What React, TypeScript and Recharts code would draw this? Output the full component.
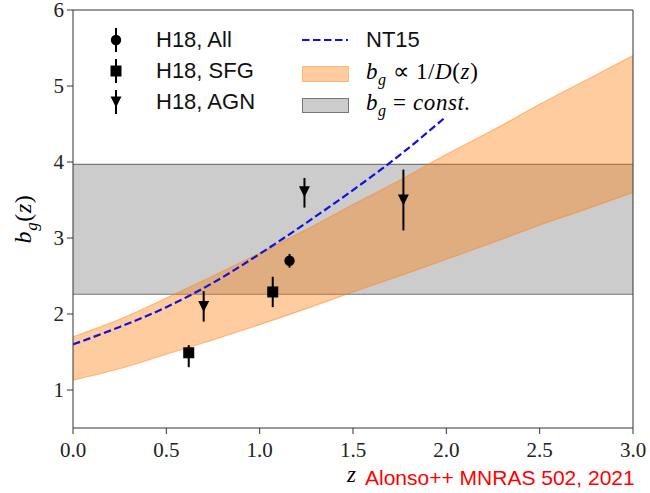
import React from 'react';
import {
  ComposedChart,
  Area,
  Line,
  Scatter,
  ErrorBar,
  XAxis,
  YAxis,
  ReferenceLine,
} from 'recharts';

// Redshift grid for the model bands
const zGrid = [0, 0.25, 0.5, 0.75, 1.0, 1.25, 1.5, 1.75, 2.0, 2.25, 2.5, 2.75, 3.0];
// b_g ∝ 1/D(z) band edges
const growthLow = [1.13, 1.28, 1.47, 1.66, 1.86, 2.07, 2.29, 2.5, 2.72, 2.94, 3.17, 3.38, 3.6];
const growthHigh = [1.7, 1.93, 2.21, 2.5, 2.8, 3.11, 3.44, 3.76, 4.1, 4.42, 4.76, 5.08, 5.4];
// b_g = const. band
const constZ = [0, 3];
const constLow = 2.26;
const constHigh = 3.97;
// NT15 prediction
const nt15Z = [0, 0.25, 0.5, 0.75, 1.0, 1.25, 1.5, 1.75, 2.0];
const nt15B = [1.6, 1.83, 2.09, 2.41, 2.79, 3.2, 3.63, 4.09, 4.6];
// H18 measurements: [z, b, err-, err+]
const h18All = [[1.16, 2.7, 0.09, 0.09]];
const h18Sfg = [
  [0.62, 1.49, 0.19, 0.1],
  [1.07, 2.29, 0.2, 0.2],
];
const h18Agn = [
  [0.7, 2.1, 0.2, 0.2],
  [1.24, 3.61, 0.21, 0.18],
  [1.77, 3.5, 0.4, 0.4],
];

const xTicks = [0, 0.5, 1.0, 1.5, 2.0, 2.5, 3.0];
const yTicks = [1, 2, 3, 4, 5, 6];

const growthData = zGrid.map((z, i) => ({ z, band: [growthLow[i], growthHigh[i]] }));
const constData = constZ.map((z) => ({ z, band: [constLow, constHigh] }));
const nt15Data = nt15Z.map((z, i) => ({ z, b: nt15B[i] }));
const toPoints = (rows: number[][]) =>
  rows.map(([z, b, lo, hi]) => ({ z, b, err: [lo, hi] }));

const SERIF = 'Liberation Serif';
const SANS = 'Liberation Sans';

const CircleMark = (p: any) => <circle cx={p.cx} cy={p.cy} r={5.2} fill="#000" />;
const SquareMark = (p: any) => (
  <rect x={p.cx - 5.5} y={p.cy - 5.5} width={11} height={11} fill="#000" />
);
const DownTriMark = (p: any) => (
  <polygon
    points={`${p.cx - 5.5},${p.cy - 5.5} ${p.cx + 5.5},${p.cy - 5.5} ${p.cx},${p.cy + 5.5}`}
    fill="#000"
  />
);

const XTick = (p: any) => (
  <g>
    <text
      x={p.x}
      y={p.y}
      dy={15}
      textAnchor="middle"
      fill="#222"
      fontFamily={SERIF}
      fontSize={21}
    >
      {Number(p.payload.value).toFixed(1)}
    </text>
  </g>
);
const YTick = (p: any) => (
  <g>
    <text
      x={p.x}
      y={p.y}
      dy={7}
      textAnchor="end"
      fill="#222"
      fontFamily={SERIF}
      fontSize={21}
    >
      {p.payload.value}
    </text>
  </g>
);

const LegendMarker = ({ kind }: { kind: string }) => (
  <svg width={24} height={26} style={{ display: 'block' }}>
    <line x1={12} y1={1} x2={12} y2={25} stroke="#000" strokeWidth={2} />
    {kind === 'circle' && <circle cx={12} cy={13} r={5.2} fill="#000" />}
    {kind === 'square' && <rect x={6.5} y={7.5} width={11} height={11} fill="#000" />}
    {kind === 'tri' && <polygon points="6.5,7.5 17.5,7.5 12,18.5" fill="#000" />}
  </svg>
);

const mathStyle: React.CSSProperties = { fontFamily: SERIF, fontSize: 23, letterSpacing: 0.6 };

export default function App() {
  return (
    <div style={{ position: 'absolute', left: 0, top: 0, width: 650, height: 493, background: '#fff' }}>
      <ComposedChart
        width={650}
        height={493}
        margin={{ top: 10, right: 17, bottom: 35, left: 13 }}
      >
        <XAxis
          dataKey="z"
          type="number"
          domain={[0, 3]}
          ticks={xTicks}
          allowDataOverflow
          height={30}
          stroke="#333"
          tickSize={6}
          tickMargin={8}
          tick={XTick}
        />
        <YAxis
          type="number"
          domain={[0.5, 6]}
          ticks={yTicks}
          allowDataOverflow
          width={60}
          stroke="#333"
          tickSize={6}
          tickMargin={3}
          tick={YTick}
        />
        <Area
          data={constData}
          dataKey="band"
          type="linear"
          fill="#808080"
          fillOpacity={0.4}
          stroke="#777"
          strokeWidth={1.2}
          isAnimationActive={false}
          activeDot={false}
        />
        <Area
          data={growthData}
          dataKey="band"
          type="monotone"
          fill="#ff7f0e"
          fillOpacity={0.4}
          stroke="#ff7f0e"
          strokeOpacity={0.45}
          strokeWidth={1.2}
          isAnimationActive={false}
          activeDot={false}
        />
        <Line
          data={nt15Data}
          dataKey="b"
          type="monotone"
          stroke="#1010e0"
          strokeWidth={2.2}
          strokeDasharray="7.5 3.5"
          dot={false}
          activeDot={false}
          isAnimationActive={false}
        />
        <ReferenceLine y={6} stroke="#333" strokeWidth={1} />
        <ReferenceLine x={3} stroke="#333" strokeWidth={1} />
        <Scatter data={toPoints(h18All)} dataKey="b" shape={CircleMark} isAnimationActive={false}>
          <ErrorBar dataKey="err" direction="y" width={0} stroke="#000" strokeWidth={2} />
        </Scatter>
        <Scatter data={toPoints(h18Sfg)} dataKey="b" shape={SquareMark} isAnimationActive={false}>
          <ErrorBar dataKey="err" direction="y" width={0} stroke="#000" strokeWidth={2} />
        </Scatter>
        <Scatter data={toPoints(h18Agn)} dataKey="b" shape={DownTriMark} isAnimationActive={false}>
          <ErrorBar dataKey="err" direction="y" width={0} stroke="#000" strokeWidth={2} />
        </Scatter>
      </ComposedChart>

      {/* legend, left column */}
      {[
        { kind: 'circle', label: 'H18, All', y: 40 },
        { kind: 'square', label: 'H18, SFG', y: 71 },
        { kind: 'tri', label: 'H18, AGN', y: 102 },
      ].map((r) => (
        <div key={r.label}>
          <div style={{ position: 'absolute', left: 104, top: r.y - 13 }}>
            <LegendMarker kind={r.kind} />
          </div>
          <div
            style={{
              position: 'absolute',
              left: 156,
              top: r.y - 13,
              height: 26,
              lineHeight: '26px',
              fontFamily: SANS,
              fontSize: 22,
              color: '#111',
              whiteSpace: 'nowrap',
            }}
          >
            {r.label}
          </div>
        </div>
      ))}

      {/* legend, right column */}
      <svg style={{ position: 'absolute', left: 300, top: 28 }} width={52} height={92}>
        <line x1={2} y1={12} x2={48} y2={12} stroke="#1010e0" strokeWidth={2.2} strokeDasharray="7.5 3.5" />
        <rect x={2.5} y={38.5} width={46} height={15} fill="#ff7f0e" fillOpacity={0.4} stroke="#ff7f0e" strokeOpacity={0.45} />
        <rect x={2.5} y={70.5} width={46} height={14} fill="#808080" fillOpacity={0.4} stroke="#777" />
      </svg>
      <div
        style={{
          position: 'absolute',
          left: 366,
          top: 27,
          height: 26,
          lineHeight: '26px',
          fontFamily: SANS,
          fontSize: 22,
          color: '#111',
        }}
      >
        NT15
      </div>
      <div style={{ position: 'absolute', left: 366, top: 58, height: 28, lineHeight: '28px', whiteSpace: 'nowrap', ...mathStyle }}>
        <i>b</i>
        <sub style={{ fontSize: 16 }}><i>g</i></sub>
        {' \u221D 1/'}
        <i>D</i>(<i>z</i>)
      </div>
      <div style={{ position: 'absolute', left: 366, top: 89, height: 28, lineHeight: '28px', whiteSpace: 'nowrap', ...mathStyle }}>
        <i>b</i>
        <sub style={{ fontSize: 16 }}><i>g</i></sub>
        {' = '}
        <i>const.</i>
      </div>

      {/* y-axis label */}
      <div
        style={{
          position: 'absolute',
          left: 26,
          top: 219,
          transform: 'translate(-50%, -50%) rotate(-90deg)',
          whiteSpace: 'nowrap',
          ...mathStyle,
          fontSize: 24,
        }}
      >
        <i>b</i>
        <sub style={{ fontSize: 17 }}><i>g</i></sub>(<i>z</i>)
      </div>

      {/* x-axis label and credit */}
      <div
        style={{
          position: 'absolute',
          left: 347,
          top: 463,
          lineHeight: '24px',
          ...mathStyle,
          fontSize: 23,
        }}
      >
        <i>z</i>
      </div>
      <div
        style={{
          position: 'absolute',
          left: 365,
          top: 466,
          lineHeight: '24px',
          fontFamily: SANS,
          fontSize: 21,
          color: '#ff0000',
          whiteSpace: 'nowrap',
        }}
      >
        Alonso++ MNRAS 502, 2021
      </div>
    </div>
  );
}
